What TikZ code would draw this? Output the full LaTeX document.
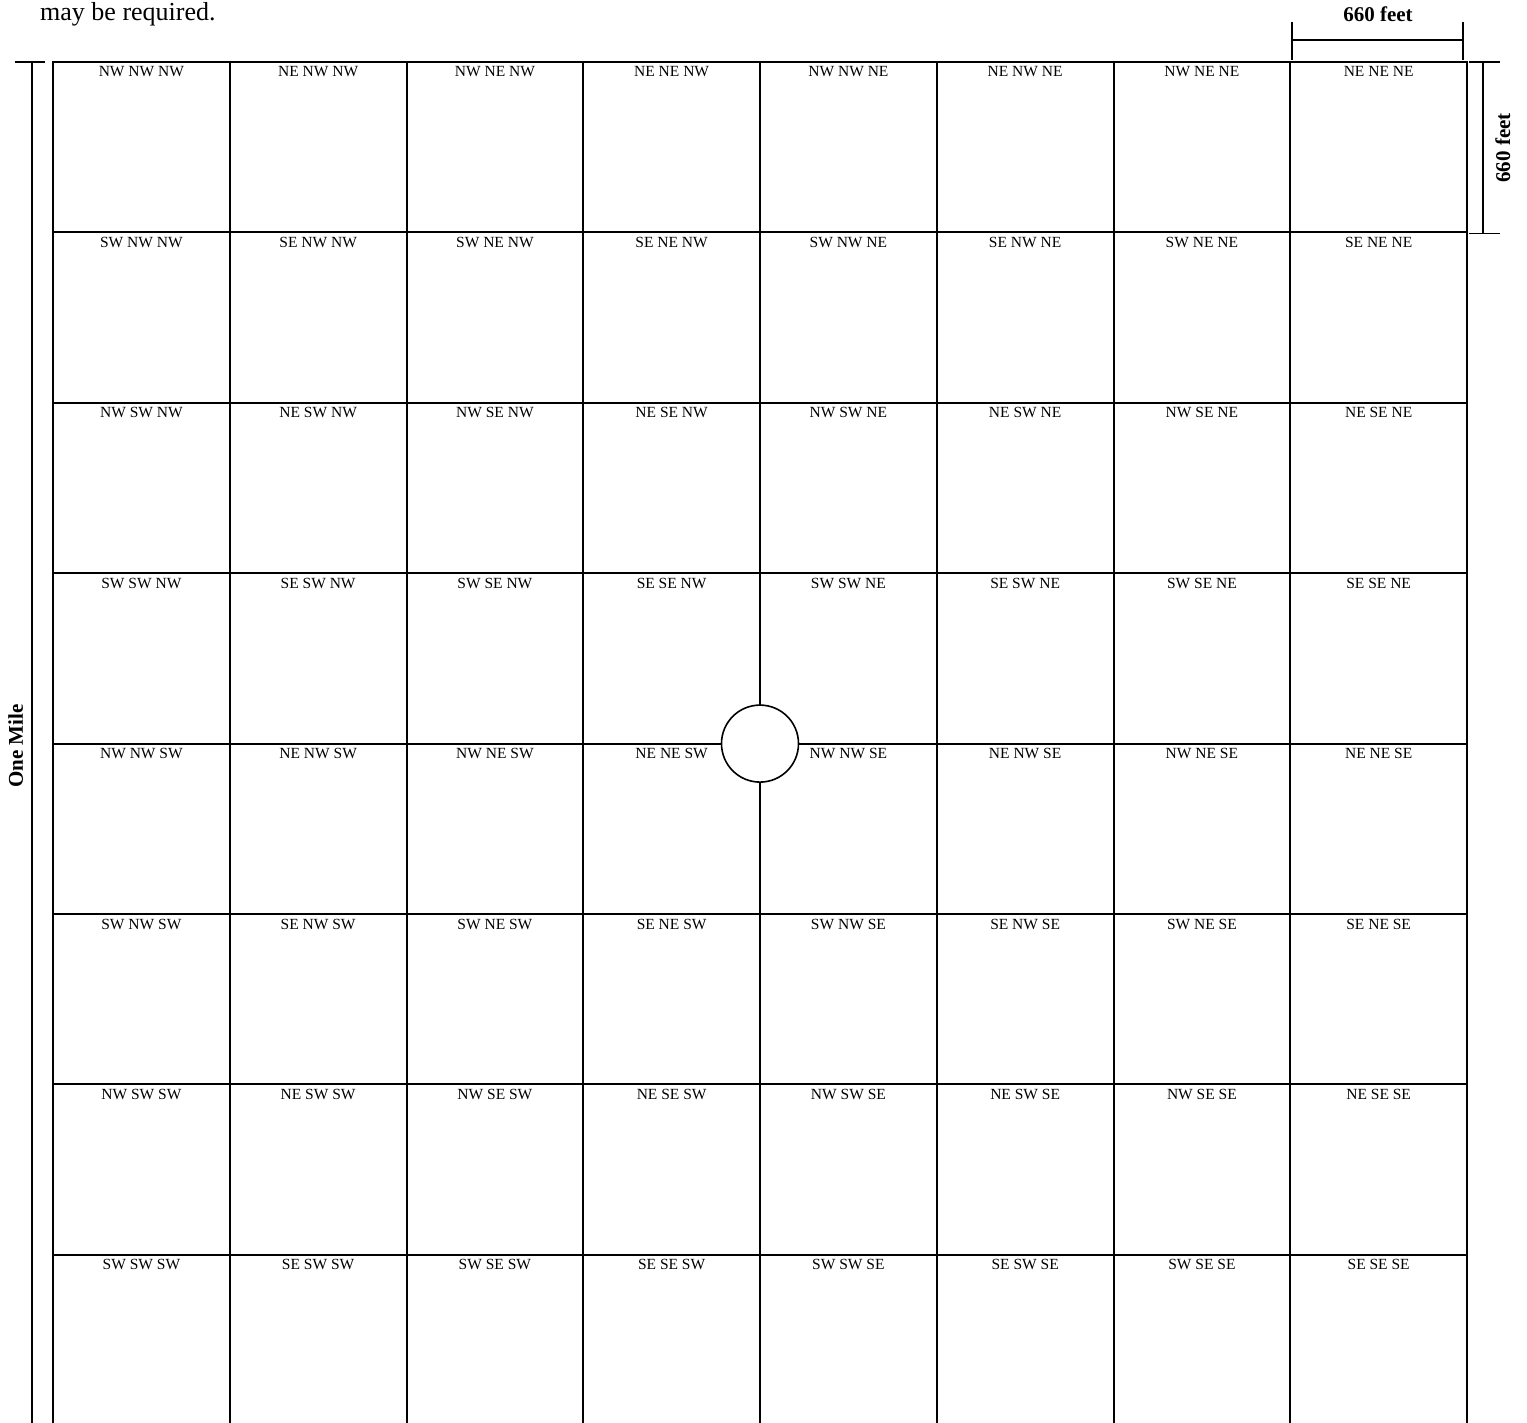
\documentclass[tikz,border=0pt]{standalone}
\usepackage{fontspec}
\setmainfont{Liberation Serif}
\begin{document}
\begin{tikzpicture}[x=1pt,y=-1pt,
  grid/.style={line width=2pt,black},
  dimline/.style={line width=1.6pt,black},
  lbl/.style={inner sep=0pt,anchor=base,font=\fontsize{15.5}{18}\selectfont},
  dimtxt/.style={inner sep=0pt,anchor=base,font=\fontsize{21}{24}\selectfont\bfseries},
  ring/.style={circle,draw,fill=white,line width=1.6pt,minimum size=77pt,inner sep=0pt}]
\useasboundingbox[fill=white] (0,0) rectangle (1527,1423);
% intro text
\node[inner sep=0pt,anchor=base west,font=\fontsize{26}{30}\selectfont] (intro) at (40,21) {may be required.};
% grid
\foreach \i in {0,...,8}{
  \draw[grid] ({53+176.75*\i},62) -- ({53+176.75*\i},1423);
}
\foreach \j in {0,...,7}{
  \draw[grid] (52,{62+170.4*\j}) -- (1468,{62+170.4*\j});
}
% labels
\foreach \r/\ra/\rb/\rc in {0/N/N/N,1/S/N/N,2/N/S/N,3/S/S/N,4/N/N/S,5/S/N/S,6/N/S/S,7/S/S/S}{
  \foreach \c/\ca/\cb/\cc in {0/W/W/W,1/E/W/W,2/W/E/W,3/E/E/W,4/W/W/E,5/E/W/E,6/W/E/E,7/E/E/E}{
    \node[lbl] (l\r\c) at ({53+176.75*\c+88.4},{62+170.4*\r+15}) {\ra\ca{} \rb\cb{} \rc\cc};
  }
}
% centre circle
\node[ring] (centre) at (760,743.6) {};
% top dimension
\coordinate (ta1) at (1292,22); \coordinate (ta2) at (1292,60);
\coordinate (tb1) at (1463,22); \coordinate (tb2) at (1463,60);
\coordinate (tl) at (1292,40); \coordinate (tr) at (1463,40);
\draw[dimline] (ta1) -- (ta2);
\draw[dimline] (tb1) -- (tb2);
\draw[dimline] (tl) -- (tr);
\node[dimtxt] (topdim) at (1378,22) {660 feet};
% right dimension
\coordinate (ra1) at (1469,62); \coordinate (ra2) at (1500,62);
\coordinate (rb1) at (1469,233.5); \coordinate (rb2) at (1500,233.5);
\coordinate (rt) at (1483,62); \coordinate (rbm) at (1483,233.5);
\draw[dimline] (ra1) -- (ra2);
\draw[dimline] (rb1) -- (rb2);
\draw[dimline] (rt) -- (rbm);
\node[dimtxt,rotate=90] (rightdim) at (1510,148) {660 feet};
% left dimension
\coordinate (la1) at (15,62); \coordinate (la2) at (45,62);
\coordinate (lt) at (32,62); \coordinate (lb) at (32,1423);
\draw[dimline] (la1) -- (la2);
\draw[dimline] (lt) -- (lb);
\node[dimtxt,rotate=90] (mile) at (23,746) {One Mile};
\end{tikzpicture}
\end{document}
